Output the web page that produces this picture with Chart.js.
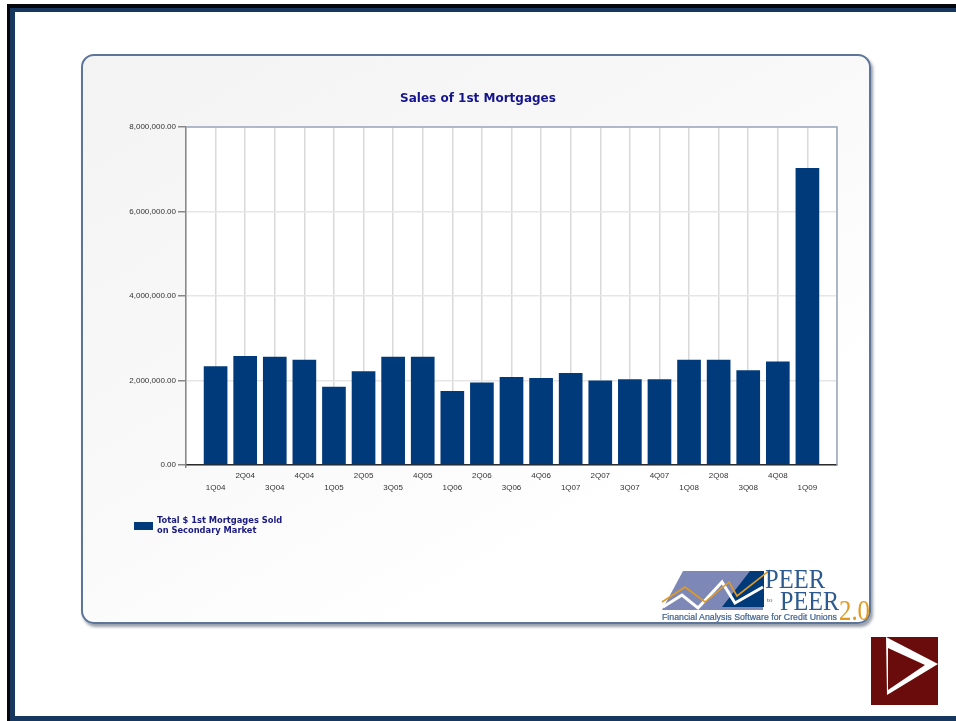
<!DOCTYPE html>
<html>
<head>
<meta charset="utf-8">
<script src="https://cdn.jsdelivr.net/npm/chart.js@4"></script>
<style>
html,body{margin:0;padding:0;background:#fff;width:956px;height:721px;overflow:hidden}
#frame{position:absolute;left:0;top:0;width:956px;height:721px;pointer-events:none}
#panel{position:absolute;left:81px;top:54px;width:786px;height:566px;border:2px solid #5d7598;border-radius:13px;
 background:linear-gradient(150deg,#f3f3f3 0%,#f9f9f9 45%,#ffffff 75%);box-shadow:2px 3px 3px rgba(70,80,100,.55)}
canvas#c{position:absolute;left:0;top:0}
#deco{position:absolute;left:0;top:0}
</style>
</head>
<body>
<div id="frame">
 <div style="position:absolute;left:7px;top:4px;right:0;height:4px;background:#05070c"></div>
 <div style="position:absolute;left:7px;top:4px;width:4px;bottom:0;background:#05070c"></div>
 <div style="position:absolute;left:10px;top:8px;right:0;height:4px;background:#17375f"></div>
 <div style="position:absolute;left:10px;top:8px;width:5px;bottom:0;background:#17375f"></div>
 <div style="position:absolute;left:10px;bottom:0;right:0;height:5px;background:#17375f"></div>
</div>
<div id="panel"></div>
<canvas id="c" width="956" height="721"></canvas>
<svg id="deco" width="956" height="721" xmlns="http://www.w3.org/2000/svg">
 <polygon points="683,571 763,571 763,610 662,610" fill="#7d88b6"/>
 <polygon points="750,571 764,571 764,607 722,607" fill="#003a78"/>
 <polyline points="663,607 682,595 698,608 722,582 735,603 763,587" fill="none" stroke="#fff" stroke-width="3"/>
 <polyline points="662,602 685,587 705,602 729,582 737,596 770,570" fill="none" stroke="#e09a24" stroke-width="1.6"/>
 <text x="765" y="588" font-family="Liberation Serif" font-size="27" fill="#2c5a8e" textLength="60" lengthAdjust="spacingAndGlyphs">PEER</text>
 <text x="767" y="602" font-family="Liberation Serif" font-size="7" fill="#2c5a8e">to</text>
 <text x="780" y="610" font-family="Liberation Serif" font-size="27" fill="#2c5a8e" textLength="59" lengthAdjust="spacingAndGlyphs">PEER</text>
 <text x="839" y="620" font-family="Liberation Serif" font-size="30" fill="#e09a24" textLength="31" lengthAdjust="spacingAndGlyphs">2.0</text>
 <text x="662" y="620" font-family="Liberation Sans" font-size="9" fill="#3f6290" stroke="#3f6290" stroke-width="0.2" textLength="175" lengthAdjust="spacingAndGlyphs">Financial Analysis Software for Credit Unions</text>
 <rect x="871" y="637" width="67" height="68" fill="#6b0c0c"/>
 <polygon points="886,637 938,664 887,695" fill="#fff"/>
 <polygon points="888,648 925,665 888,690" fill="#6b0c0c"/>
</svg>
<script>
const quarters = ['1Q04','2Q04','3Q04','4Q04','1Q05','2Q05','3Q05','4Q05','1Q06','2Q06','3Q06','4Q06','1Q07','2Q07','3Q07','4Q07','1Q08','2Q08','3Q08','4Q08','1Q09'];
const mortgagesSold = [2340000,2580000,2560000,2490000,1850000,2220000,2560000,2560000,1750000,1950000,2080000,2060000,2180000,2000000,2030000,2030000,2490000,2490000,2240000,2450000,7030000];
const seriesLabel = ['Total $ 1st Mortgages Sold','on Secondary Market'];
const chartTitle = 'Sales of 1st Mortgages';
const yTicks = [0,2000000,4000000,6000000,8000000];

const labels = ['',...quarters,''];
const values = [null,...mortgagesSold,null];

const plotDecor = {
  id:'plotDecor',
  beforeDraw(chart){
    const {ctx,chartArea:a}=chart;
    ctx.save();ctx.fillStyle='#fff';ctx.fillRect(a.left,a.top,a.right-a.left,a.bottom-a.top);ctx.restore();
  },
  afterDraw(chart){
    const {ctx,chartArea:a}=chart;
    ctx.save();
    ctx.strokeStyle='#9aa8bd';ctx.lineWidth=1.5;
    ctx.beginPath();ctx.moveTo(a.left,a.top);ctx.lineTo(a.right,a.top);ctx.lineTo(a.right,a.bottom);ctx.stroke();
    // two-line legend with its swatch centred on the text block
    ctx.fillStyle=chart.data.datasets[0].backgroundColor;
    ctx.fillRect(134,522,19,8);
    ctx.fillStyle='#1a1a80';
    ctx.font='bold 8.3px "DejaVu Sans"';
    ctx.textBaseline='middle';ctx.textAlign='left';
    seriesLabel.forEach((t,i)=>ctx.fillText(t,157,521+i*10));
    ctx.restore();
  }
};

new Chart(document.getElementById('c'),{
  type:'bar',
  data:{labels,datasets:[{label:seriesLabel.join(' '),data:values,backgroundColor:'#003a7a',borderWidth:0,barPercentage:0.8,categoryPercentage:1}]},
  plugins:[plotDecor],
  options:{
    responsive:false,animation:false,
    layout:{padding:{left:119,right:119,top:92,bottom:226}},
    plugins:{
      legend:{display:false},tooltip:{enabled:false},
      title:{display:true,text:chartTitle,color:'#14148c',font:{family:'DejaVu Sans',size:12,weight:'bold',lineHeight:1.2},padding:{top:0,bottom:20.6}}
    },
    scales:{
      x:{
        offset:false,
        afterFit(s){s.height=30;},
        border:{color:'#2a2a2a',width:1.5},
        grid:{offset:false,color:'#d9d9d9',lineWidth:1.5,tickLength:3,tickColor:c=>c.index===0?'#888':'rgba(0,0,0,0)'},
        ticks:{autoSkip:false,maxRotation:0,minRotation:0,padding:2,color:'#333',font:{family:'Liberation Sans',size:8,lineHeight:1.5},
          callback(v,i){const q=this.getLabelForValue(v);if(!q)return '';return i%2===0?[q,'']:['',q];}}
      },
      y:{
        min:0,max:8000000,
        afterBuildTicks(s){s.ticks=yTicks.map(value=>({value}));},
        afterFit(s){s.width=67;},
        border:{color:'#888',width:1.5},
        grid:{color:'#e6e6e6',lineWidth:1.5,tickLength:8,tickColor:'#888'},
        ticks:{padding:2,color:'#333',font:{family:'Liberation Sans',size:8},
          callback:v=>v.toLocaleString('en-US',{minimumFractionDigits:2,maximumFractionDigits:2})}
      }
    }
  }
});
</script>
</body>
</html>
